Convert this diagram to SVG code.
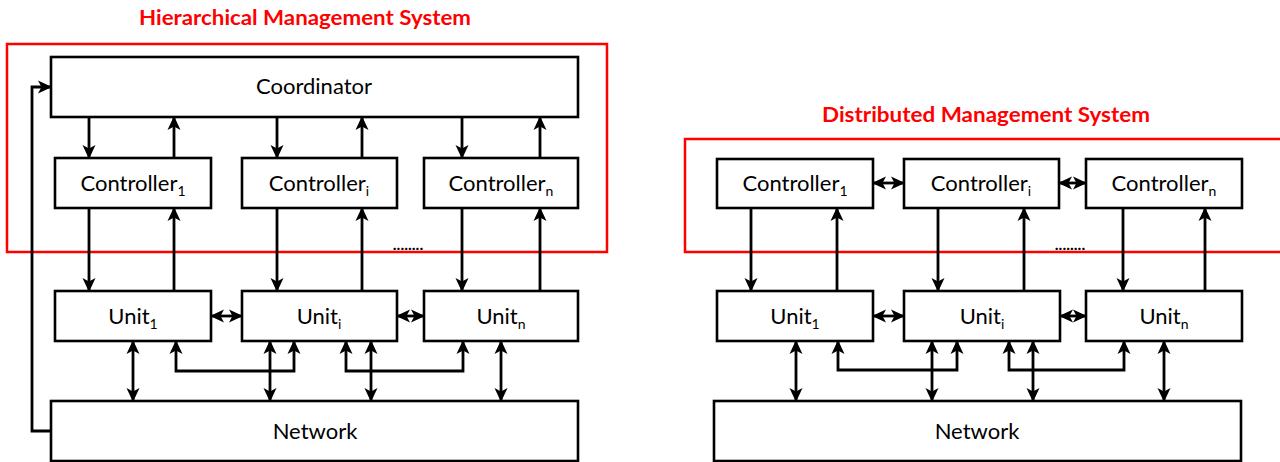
<svg xmlns="http://www.w3.org/2000/svg" width="1280" height="462" viewBox="0 0 1280 462">
  <style>
    .box { fill: #ffffff; stroke: #000000; stroke-width: 2.6; }
    .frame { fill: none; stroke: #ff0000; stroke-width: 2.5; }
    .title { font-family: Lato, "Liberation Sans", sans-serif; font-weight: bold; font-size: 21px; fill: #ff0000; text-anchor: middle; }
    .lbl { font-family: Lato, "Liberation Sans", sans-serif; font-size: 22px; fill: #000000; text-anchor: middle; }
    .sub { font-size: 14px; }
    .dots { font-family: Lato, "Liberation Sans", sans-serif; font-size: 16px; font-weight: bold; fill: #000000; text-anchor: middle; }
    .ln { fill: none; stroke: #000000; stroke-width: 2.8; }
    .one { marker-end: url(#head); }
    .two { marker-start: url(#head); marker-end: url(#head); }
  </style>
  <defs>
    <marker id="head" markerUnits="userSpaceOnUse" markerWidth="15" markerHeight="14" refX="13" refY="7" orient="auto-start-reverse" viewBox="0 0 15 14">
      <path d="M0,0.5 L14,7 L0,13.5 L3.5,7 z" fill="#000000"/>
    </marker>
  </defs>

  <!-- ===== Hierarchical system ===== -->
  <text class="title" x="305" y="25" textLength="332" lengthAdjust="spacingAndGlyphs">Hierarchical Management System</text>
  <rect class="frame" x="7" y="44" width="600" height="208"/>

  <g id="h-coordinator">
    <rect class="box" x="51" y="57" width="527" height="60"/>
    <text class="lbl" x="314" y="94">Coordinator</text>
  </g>
  <g id="h-controller-1">
    <rect class="box" x="55" y="158" width="156" height="50"/>
    <text class="lbl" x="133" y="191">Controller<tspan class="sub" dy="5">1</tspan></text>
  </g>
  <g id="h-controller-i">
    <rect class="box" x="242" y="158" width="155" height="50"/>
    <text class="lbl" x="319" y="191">Controller<tspan class="sub" dy="5">i</tspan></text>
  </g>
  <g id="h-controller-n">
    <rect class="box" x="424" y="158" width="154" height="50"/>
    <text class="lbl" x="501" y="191">Controller<tspan class="sub" dy="5">n</tspan></text>
  </g>
  <g id="h-unit-1">
    <rect class="box" x="55" y="291" width="156" height="50"/>
    <text class="lbl" x="133" y="324">Unit<tspan class="sub" dy="5">1</tspan></text>
  </g>
  <g id="h-unit-i">
    <rect class="box" x="242" y="291" width="155" height="50"/>
    <text class="lbl" x="319" y="324">Unit<tspan class="sub" dy="5">i</tspan></text>
  </g>
  <g id="h-unit-n">
    <rect class="box" x="424" y="291" width="154" height="50"/>
    <text class="lbl" x="501" y="324">Unit<tspan class="sub" dy="5">n</tspan></text>
  </g>
  <g id="h-network">
    <rect class="box" x="51" y="401" width="527" height="60"/>
    <text class="lbl" x="315" y="439">Network</text>
  </g>
  <text class="dots" x="408" y="250">........</text>

  <g id="h-connectors">
    <!-- coordinator <-> controllers -->
    <line class="ln one" x1="89" y1="117" x2="89" y2="158"/>
    <line class="ln one" x1="174" y1="158" x2="174" y2="117"/>
    <line class="ln one" x1="277" y1="117" x2="277" y2="158"/>
    <line class="ln one" x1="362" y1="158" x2="362" y2="117"/>
    <line class="ln one" x1="462" y1="117" x2="462" y2="158"/>
    <line class="ln one" x1="540" y1="158" x2="540" y2="117"/>
    <!-- controllers <-> units -->
    <line class="ln one" x1="89" y1="208" x2="89" y2="291"/>
    <line class="ln one" x1="174" y1="291" x2="174" y2="208"/>
    <line class="ln one" x1="277" y1="208" x2="277" y2="291"/>
    <line class="ln one" x1="362" y1="291" x2="362" y2="208"/>
    <line class="ln one" x1="462" y1="208" x2="462" y2="291"/>
    <line class="ln one" x1="540" y1="291" x2="540" y2="208"/>
    <!-- unit to unit -->
    <line class="ln two" x1="211" y1="316" x2="242" y2="316"/>
    <line class="ln two" x1="397" y1="316" x2="424" y2="316"/>
    <!-- units <-> network -->
    <line class="ln two" x1="133" y1="341" x2="133" y2="401"/>
    <line class="ln two" x1="270" y1="341" x2="270" y2="401"/>
    <line class="ln two" x1="371" y1="341" x2="371" y2="401"/>
    <line class="ln two" x1="501" y1="341" x2="501" y2="401"/>
    <!-- unit buses -->
    <path class="ln two" d="M176,341 V371 H294 V341"/>
    <path class="ln two" d="M346,341 V371 H463 V341"/>
    <!-- network feedback to coordinator -->
    <path class="ln one" d="M51,431 H32 V87 H51"/>
  </g>

  <!-- ===== Distributed system ===== -->
  <text class="title" x="986" y="122" textLength="328" lengthAdjust="spacingAndGlyphs">Distributed Management System</text>
  <rect class="frame" x="685" y="139" width="620" height="113"/>

  <g id="d-controller-1">
    <rect class="box" x="717" y="159" width="156" height="49"/>
    <text class="lbl" x="795" y="191">Controller<tspan class="sub" dy="5">1</tspan></text>
  </g>
  <g id="d-controller-i">
    <rect class="box" x="904" y="159" width="155" height="49"/>
    <text class="lbl" x="981" y="191">Controller<tspan class="sub" dy="5">i</tspan></text>
  </g>
  <g id="d-controller-n">
    <rect class="box" x="1086" y="159" width="156" height="49"/>
    <text class="lbl" x="1164" y="191">Controller<tspan class="sub" dy="5">n</tspan></text>
  </g>
  <g id="d-unit-1">
    <rect class="box" x="717" y="291" width="156" height="50"/>
    <text class="lbl" x="795" y="324">Unit<tspan class="sub" dy="5">1</tspan></text>
  </g>
  <g id="d-unit-i">
    <rect class="box" x="904" y="291" width="156" height="50"/>
    <text class="lbl" x="982" y="324">Unit<tspan class="sub" dy="5">i</tspan></text>
  </g>
  <g id="d-unit-n">
    <rect class="box" x="1086" y="291" width="156" height="50"/>
    <text class="lbl" x="1164" y="324">Unit<tspan class="sub" dy="5">n</tspan></text>
  </g>
  <g id="d-network">
    <rect class="box" x="714" y="401" width="527" height="60"/>
    <text class="lbl" x="977" y="439">Network</text>
  </g>
  <text class="dots" x="1070" y="250">........</text>

  <g id="d-connectors">
    <!-- controller to controller -->
    <line class="ln two" x1="873" y1="183" x2="904" y2="183"/>
    <line class="ln two" x1="1059" y1="183" x2="1086" y2="183"/>
    <!-- controllers <-> units -->
    <line class="ln one" x1="751" y1="208" x2="751" y2="291"/>
    <line class="ln one" x1="837" y1="291" x2="837" y2="208"/>
    <line class="ln one" x1="938" y1="208" x2="938" y2="291"/>
    <line class="ln one" x1="1024" y1="291" x2="1024" y2="208"/>
    <line class="ln one" x1="1123" y1="208" x2="1123" y2="291"/>
    <line class="ln one" x1="1205" y1="291" x2="1205" y2="208"/>
    <!-- unit to unit -->
    <line class="ln two" x1="873" y1="316" x2="904" y2="316"/>
    <line class="ln two" x1="1060" y1="316" x2="1086" y2="316"/>
    <!-- units <-> network -->
    <line class="ln two" x1="796" y1="341" x2="796" y2="401"/>
    <line class="ln two" x1="932" y1="341" x2="932" y2="401"/>
    <line class="ln two" x1="1033" y1="341" x2="1033" y2="401"/>
    <line class="ln two" x1="1164" y1="341" x2="1164" y2="401"/>
    <!-- unit buses -->
    <path class="ln two" d="M838,341 V370 H957 V341"/>
    <path class="ln two" d="M1009,341 V370 H1124 V341"/>
  </g>
</svg>
